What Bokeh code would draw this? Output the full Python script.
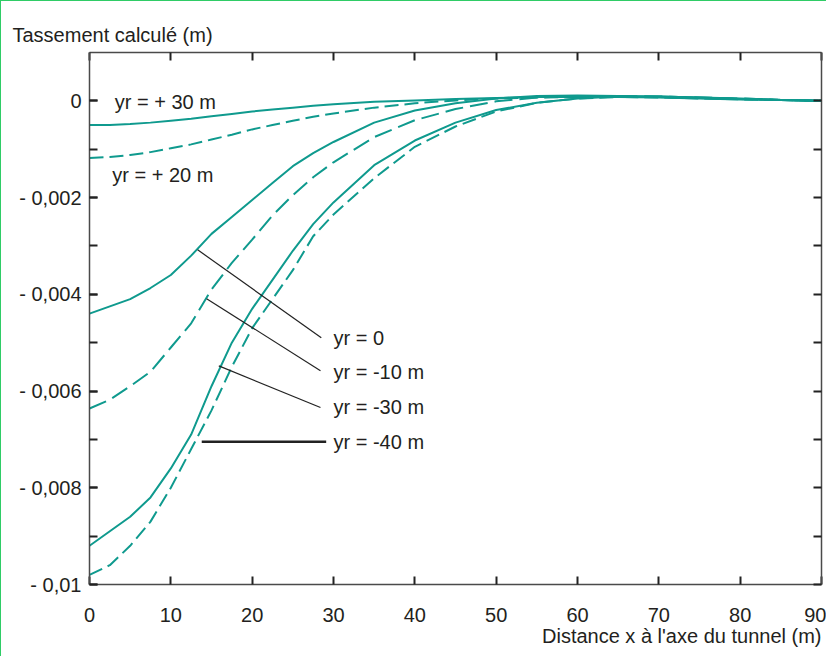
from bokeh.plotting import figure
from bokeh.models import Range1d, LinearAxis, FixedTicker, Label, Title
from bokeh.embed import file_html
from bokeh.resources import INLINE

# ---- data ----
distance = [0, 2.5, 5, 7.5, 10, 12.5, 15, 17.5, 20, 22.5, 25, 27.5, 30,
            35, 40, 45, 50, 55, 60, 65, 70, 75, 80, 85, 90]
yr_p30 = [-0.0005, -0.0005, -0.00048, -0.00045, -0.00041, -0.00037, -0.00032, -0.00027,
          -0.00022, -0.00018, -0.00014, -0.0001, -0.00007, -0.00002, 0.00001, 0.00004,
          0.00006, 0.00008, 0.00008, 0.00008, 0.00007, 0.00005, 0.00003, 0.00002, 0.0]
yr_p20 = [-0.00118, -0.00116, -0.00112, -0.00106, -0.00098, -0.0009, -0.0008, -0.0007,
          -0.00059, -0.0005, -0.00041, -0.00033, -0.00026, -0.00014, -0.00005, 0.00001,
          0.00005, 0.00007, 0.00008, 0.00008, 0.00007, 0.00005, 0.00003, 0.00002, 0.0]
yr_0 = [-0.0044, -0.00425, -0.0041, -0.00387, -0.0036, -0.0032, -0.00275, -0.0024,
        -0.00205, -0.0017, -0.00135, -0.00108, -0.00085, -0.00045, -0.0002, -0.00005,
        0.00005, 0.0001, 0.00011, 0.0001, 0.00009, 0.00007, 0.00004, 0.00002, 0.0]
yr_m10 = [-0.00636, -0.00618, -0.0059, -0.0056, -0.0051, -0.0046, -0.0039, -0.00335,
          -0.00287, -0.00237, -0.00195, -0.00158, -0.00127, -0.00075, -0.0004, -0.00017,
          -0.00001, 0.00007, 0.0001, 0.0001, 0.00009, 0.00007, 0.00005, 0.00002, 0.0]
yr_m30 = [-0.0092, -0.0089, -0.0086, -0.0082, -0.0076, -0.0069, -0.0059, -0.005,
          -0.0043, -0.0037, -0.0031, -0.00255, -0.0021, -0.00133, -0.00082, -0.00045,
          -0.00019, -0.00004, 0.00005, 0.00009, 0.00009, 0.00007, 0.00005, 0.00002, 0.0]
yr_m40 = [-0.0098, -0.0096, -0.0092, -0.0087, -0.008, -0.0072, -0.0064, -0.0055,
          -0.0047, -0.0041, -0.0035, -0.0028, -0.00235, -0.0016, -0.00095, -0.00053,
          -0.00022, -0.00004, 0.00005, 0.00008, 0.00008, 0.00006, 0.00004, 0.00002, 0.0]

x_ticks = [0, 10, 20, 30, 40, 50, 60, 70, 80, 90]
y_major = [0.0, -0.002, -0.004, -0.006, -0.008, -0.01]
y_major_labels = ["0", "- 0,002", "- 0,004", "- 0,006", "- 0,008", "- 0,01"]
y_minor = [0.0, -0.001, -0.002, -0.003, -0.004, -0.005, -0.006, -0.007, -0.008, -0.009, -0.01]

y_title = "Tassement calculé (m)"
x_title = "Distance x à l'axe du tunnel (m)"

# curve labels (text, x, y) and leader lines (x0, y0, x1, y1)
top_labels = [("yr = + 30 m", 3.1, -0.00002), ("yr = + 20 m", 2.8, -0.00153)]
side_labels = ["yr = 0", "yr = -10 m", "yr = -30 m", "yr = -40 m"]
side_label_x = 30.0
side_label_y = [-0.0049, -0.0056, -0.00634, -0.00705]
leader_x0 = [13.3, 14.4, 15.9, 13.8]
leader_y0 = [-0.00308, -0.00409, -0.00548, -0.00705]
leader_x1 = [28.5, 28.4, 28.4, 29.1]
leader_y1 = [-0.0049, -0.00558, -0.00634, -0.00705]
leader_w = [1.2, 1.2, 1.2, 2.5]

FONT = "Liberation Sans"
FS = "20px"
TXT = "#231f20"
TEAL = "#0f9a8e"

p = figure(width=826, height=656, output_backend="svg", toolbar_location=None,
           x_range=Range1d(0, 90), y_range=Range1d(-0.01, 0.001),
           x_axis_location=None, y_axis_location=None,
           min_border_left=88, min_border_right=6, min_border_top=51, min_border_bottom=73)
p.styles = {"border-left": "1px solid #2fcc66", "border-top": "1px solid #2fcc66"}
p.outline_line_color = None
p.xgrid.visible = False
p.ygrid.visible = False
p.background_fill_color = "white"
p.border_fill_color = "white"


def style_axis(ax, show_labels):
    ax.axis_line_color = "#4a4a4a"
    ax.axis_line_width = 1.5
    ax.major_tick_line_color = "#222222"
    ax.minor_tick_line_color = "#222222"
    ax.major_tick_line_width = 2
    ax.minor_tick_line_width = 2
    ax.major_tick_in = 8
    ax.major_tick_out = 0
    ax.minor_tick_in = 8
    ax.minor_tick_out = 0
    ax.major_label_text_font = FONT
    ax.major_label_text_font_size = FS
    ax.major_label_text_color = TXT
    if not show_labels:
        ax.major_label_text_font_size = "0px"
        ax.major_label_standoff = 0


bottom = LinearAxis(ticker=FixedTicker(ticks=x_ticks))
style_axis(bottom, True)
bottom.major_label_standoff = 23
top = LinearAxis(ticker=FixedTicker(ticks=x_ticks))
style_axis(top, False)
top.major_label_overrides = {t: "" for t in x_ticks}
left = LinearAxis(ticker=FixedTicker(ticks=y_major, minor_ticks=y_minor))
style_axis(left, True)
left.major_label_standoff = 8
left.major_label_overrides = dict(zip(y_major, y_major_labels))
right = LinearAxis(ticker=FixedTicker(ticks=y_minor))
style_axis(right, False)
right.major_label_overrides = {t: "" for t in y_minor}

p.add_layout(bottom, "below")
p.add_layout(top, "above")
p.add_layout(left, "left")
p.add_layout(right, "right")

# axis titles as plot titles
p.add_layout(Title(text=x_title, align="right", text_font=FONT, text_font_size=FS,
                   text_color=TXT, text_font_style="normal", standoff=-3), "below")
p.add_layout(Title(text=y_title, align="left", offset=-77, text_font=FONT, text_font_size=FS,
                   text_color=TXT, text_font_style="normal", standoff=13), "above")

# curves
p.line(distance, yr_p30, line_color=TEAL, line_width=2)
p.line(distance, yr_p20, line_color=TEAL, line_width=2, line_dash="14 6")
p.line(distance, yr_0, line_color=TEAL, line_width=2)
p.line(distance, yr_m10, line_color=TEAL, line_width=2, line_dash="18 7")
p.line(distance, yr_m30, line_color=TEAL, line_width=2)
p.line(distance, yr_m40, line_color=TEAL, line_width=2, line_dash="14 6")

# leader lines
for x0, y0, x1, y1, w in zip(leader_x0, leader_y0, leader_x1, leader_y1, leader_w):
    p.line([x0, x1], [y0, y1], line_color="#222222", line_width=w)

for txt, lx, ly in top_labels:
    p.add_layout(Label(x=lx, y=ly, text=txt, text_font=FONT, text_font_size=FS,
                       text_color=TXT, text_baseline="middle", text_align="left"))
for txt, ly in zip(side_labels, side_label_y):
    p.add_layout(Label(x=side_label_x, y=ly, text=txt, text_font=FONT, text_font_size=FS,
                       text_color=TXT, text_baseline="middle", text_align="left"))

open("out.html", "w").write(file_html(p, INLINE))
